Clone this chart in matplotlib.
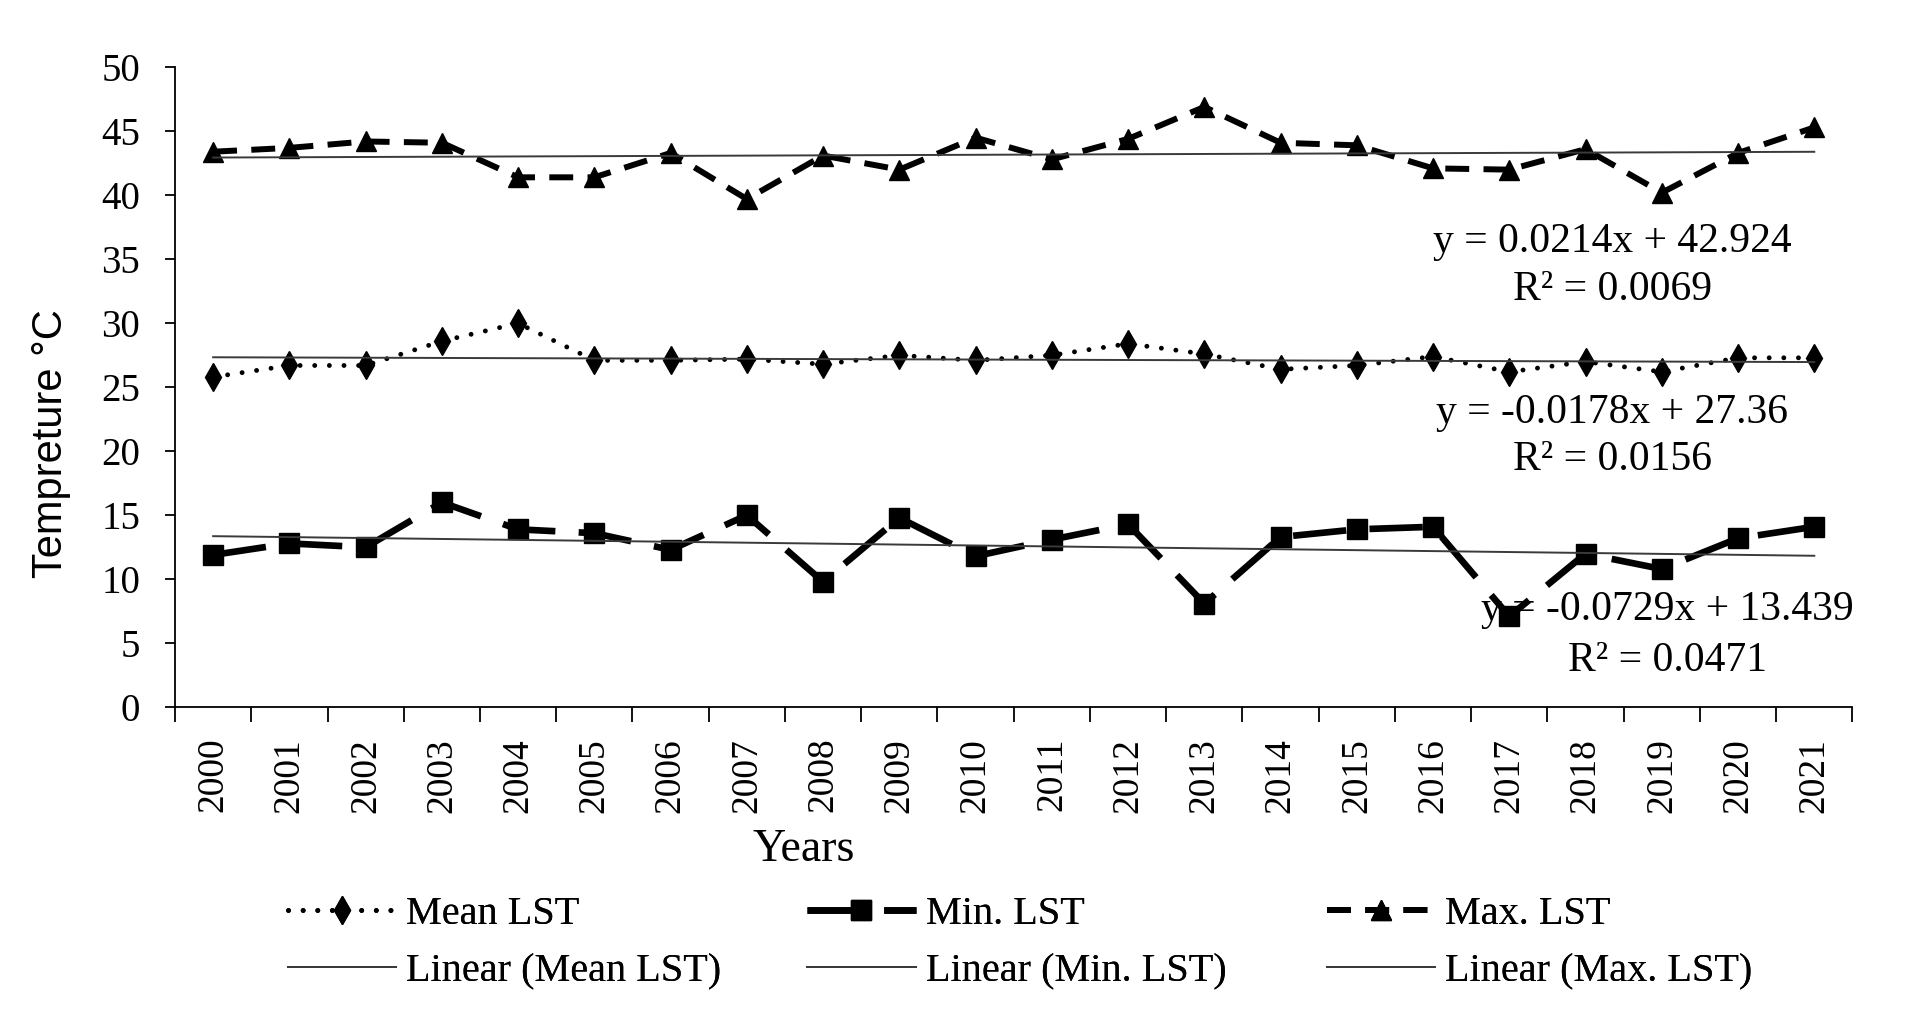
import matplotlib
matplotlib.use("Agg")
import matplotlib.pyplot as plt
import numpy as np

years = [str(y) for y in range(2000, 2022)]

mean_lst = [25.8, 26.7, 26.7, 28.6, 30.0, 27.1, 27.1, 27.2, 26.8, 27.5, 27.1,
            27.5, 28.4, 27.6, 26.4, 26.7, 27.4, 26.2, 27.0, 26.2, 27.3, 27.3]
min_lst = [11.9, 12.8, 12.5, 16.0, 13.9, 13.6, 12.3, 15.0, 9.8, 14.8, 11.8,
           13.1, 14.3, 8.1, 13.3, 13.9, 14.1, 7.1, 12.0, 10.8, 13.2, 14.1]
max_lst = [43.4, 43.7, 44.2, 44.1, 41.4, 41.4, 43.3, 39.7, 43.1, 42.0, 44.5,
           42.8, 44.4, 46.9, 44.1, 43.9, 42.1, 42.0, 43.6, 40.2, 43.3, 45.3]

# Excel trendline coefficients (x = 1..22)
trend_mean = (-0.0178, 27.36, 0.0156)
trend_min = (-0.0729, 13.439, 0.0471)
trend_max = (0.0214, 42.924, 0.0069)

SERIF = "Liberation Serif"
SANS = "Liberation Sans"
TREND_COLOR = "#3a3a3a"

plt.rcParams["font.family"] = SERIF

fig = plt.figure(figsize=(19.17, 10.28), dpi=100)
ax = fig.add_axes([0.0913, 0.312, 0.875, 0.6226])

x = np.arange(len(years))
xt = x + 1

l_mean, = ax.plot(x, mean_lst, color="black", lw=3.5, dashes=(0.01, 3.0),
                  dash_capstyle="round", marker="d", ms=14, label="Mean LST")
l_min, = ax.plot(x, min_lst, color="black", lw=4.8, dashes=(8, 3.5),
                 marker="s", ms=14, label="Min. LST")
l_max, = ax.plot(x, max_lst, color="black", lw=4.3, dashes=(4, 2.4),
                 marker="^", ms=15, label="Max. LST")

lin = {}
for key, (m, b, _) in [("mean", trend_mean), ("min", trend_min), ("max", trend_max)]:
    lin[key], = ax.plot(x, m * xt + b, color=TREND_COLOR, lw=1.4)
lin["mean"].set_label("Linear (Mean LST)")
lin["min"].set_label("Linear (Min. LST)")
lin["max"].set_label("Linear (Max. LST)")

ax.set_xlim(-0.5, len(years) - 0.5)
ax.set_ylim(0, 50)
ax.set_yticks(range(0, 51, 5))
ax.set_xticks(x)
ax.set_xticklabels(years, rotation=90)
ax.set_xticks(np.arange(-0.5, len(years), 1.0), minor=True)
ax.tick_params(axis="x", which="major", length=0, pad=22, labelsize=27)
ax.tick_params(axis="x", which="minor", length=11, width=1.3, direction="out")
ax.tick_params(axis="y", length=7, width=1.3, pad=18, labelsize=28)
for s in ["top", "right"]:
    ax.spines[s].set_visible(False)
for s in ["left", "bottom"]:
    ax.spines[s].set_linewidth(1.3)

# trendline equations
eq_style = dict(ha="center", va="center", fontsize=30)
ax.text(18.35, 36.4, "y = 0.0214x + 42.924", **eq_style)
ax.text(18.35, 32.6, "R\u00b2 = 0.0069", **eq_style)
ax.text(18.35, 23.0, "y = -0.0178x + 27.36", **eq_style)
ax.text(18.35, 19.3, "R\u00b2 = 0.0156", **eq_style)
ax.text(19.07, 7.6, "y = -0.0729x + 13.439", **eq_style)
ax.text(19.07, 3.6, "R\u00b2 = 0.0471", **eq_style)

fig.text(0.419, 0.173, "Years", ha="center", va="center", fontsize=33)
fig.text(0.0268, 0.569, "Tempreture \u00b0C", rotation=90, ha="center",
         va="center", fontsize=30, family=SANS)

# legend: three columns, two rows
cols = [(0.150, [l_mean, lin["mean"]]),
        (0.421, [l_min, lin["min"]]),
        (0.692, [l_max, lin["max"]])]
for xpos, hs in cols:
    lg = fig.legend(handles=hs, loc="center left", bbox_to_anchor=(xpos, 0.083),
                    frameon=False, fontsize=29, handlelength=2.7,
                    handletextpad=0.25, borderpad=0, borderaxespad=0,
                    labelspacing=0.5, numpoints=1)
    fig.add_artist(lg)

fig.savefig("out.png", dpi=100)
